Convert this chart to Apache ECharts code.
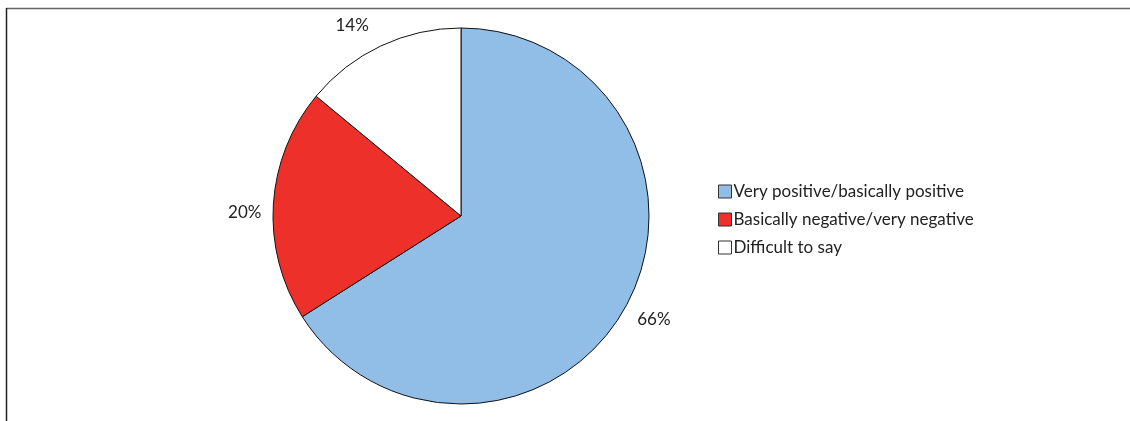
<!DOCTYPE html>
<html><head><meta charset="utf-8">
<script src="https://cdn.jsdelivr.net/npm/echarts@6/dist/echarts.min.js"></script>
<style>html,body{margin:0;padding:0;background:#fff}#c{width:1130px;height:421px}</style>
</head><body><div id="c"></div>
<script>
const categories = ["Very positive/basically positive", "Basically negative/very negative", "Difficult to say"];
const values = [66, 20, 14];
const colors = ["#90BEE7", "#EE302B", "#FFFFFF"];
const labelOffsets = [[-4, 7], [5, 9], [-2, -10]];

const chart = echarts.init(document.getElementById('c'), null, {renderer: 'canvas'});
chart.setOption({
  animation: false,
  textStyle: {fontFamily: 'Lato'},
  graphic: [
    {type: 'line', shape: {x1: 6, y1: 8.5, x2: 1130, y2: 8.5}, style: {stroke: '#666', lineWidth: 1.5}},
    {type: 'line', shape: {x1: 6.5, y1: 8, x2: 6.5, y2: 421}, style: {stroke: '#222', lineWidth: 1.5}}
  ],
  legend: {
    orient: 'vertical', left: 713, top: 178,
    itemWidth: 13, itemHeight: 13, itemGap: 11,
    icon: 'rect',
    textStyle: {fontSize: 17, color: '#222', fontFamily: 'Lato', padding: [0, 0, 0, -3]},
    itemStyle: {borderColor: '#333', borderWidth: 1},
    data: categories
  },
  series: [{
    type: 'pie',
    center: [461, 216],
    radius: 188,
    startAngle: 90,
    clockwise: true,
    data: categories.map((n, i) => ({name: n, value: values[i], itemStyle: {color: colors[i]}, label: {offset: labelOffsets[i]}})),
    itemStyle: {borderColor: '#111', borderWidth: 1},
    label: {show: true, position: 'outside', formatter: '{c}%', fontSize: 17, color: '#222', fontFamily: 'Lato'},
    labelLine: {show: false, length: 12, length2: 0},
    emphasis: {disabled: true}
  }]
});
</script></body></html>
